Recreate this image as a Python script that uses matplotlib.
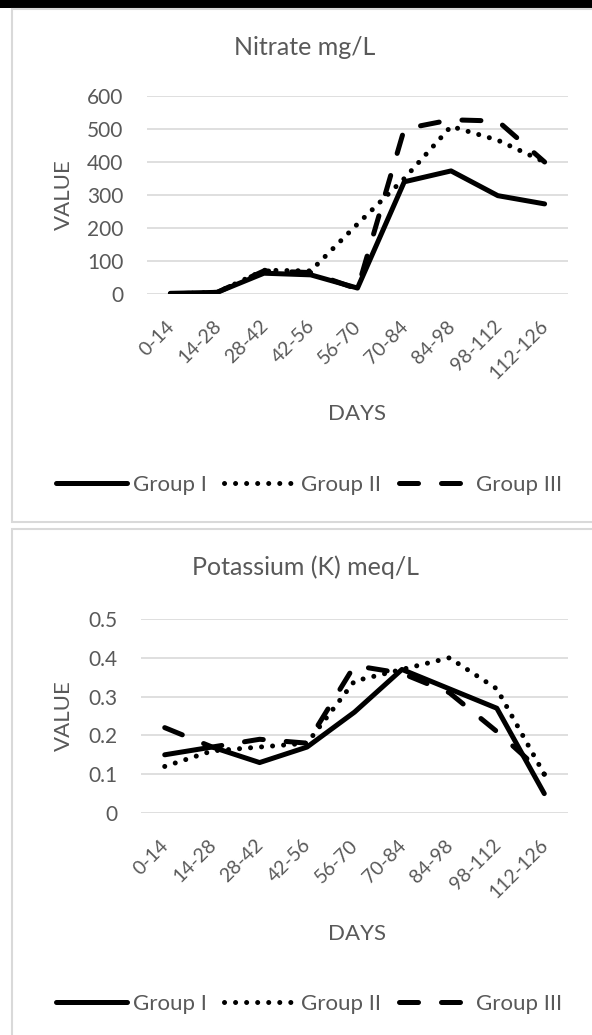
import numpy as np
import matplotlib.pyplot as plt
from matplotlib.patches import Rectangle
from matplotlib.transforms import ScaledTranslation

plt.rcParams['font.family'] = ['Lato', 'DejaVu Sans']

days = ['0-14', '14-28', '28-42', '42-56', '56-70', '70-84', '84-98', '98-112', '112-126']

# Nitrate mg/L
nitrate_g1 = [2, 5, 63, 58, 18, 340, 373, 298, 273]
nitrate_g2 = [0, 5, 72, 70, 212, 350, 508, 466, 400]
nitrate_g3 = [0, 5, 70, 65, 15, 500, 528, 524, 400]

# Potassium (K) meq/L
potassium_g1 = [0.15, 0.17, 0.13, 0.17, 0.26, 0.37, 0.32, 0.27, 0.05]
potassium_g2 = [0.12, 0.16, 0.17, 0.18, 0.34, 0.37, 0.40, 0.32, 0.10]
potassium_g3 = [0.22, 0.17, 0.19, 0.18, 0.38, 0.36, 0.31, 0.21, 0.10]

grey = '#595959'
W, H = 592, 1035
fig = plt.figure(figsize=(W / 100, H / 100), dpi=100)

# panel frames and the black strip on top
fig.patches.append(Rectangle((0, 1 - 8 / H), 1, 8 / H, transform=fig.transFigure,
                             facecolor='black', edgecolor='none', zorder=-5))
for top, bot in [(9, 522), (529, 1040)]:
    fig.patches.append(Rectangle((12 / W, 1 - bot / H), 1, (bot - top) / H,
                                 transform=fig.transFigure, facecolor='white',
                                 edgecolor='#d9d9d9', linewidth=1.5, zorder=-5))

styles = [dict(linestyle='-', solid_capstyle='round'),
          dict(linestyle=(0, (0.01, 2.2)), dash_capstyle='round'),
          dict(linestyle=(0, (3.8, 4.6)), dash_capstyle='round')]
labels = ['Group I', 'Group II', 'Group III']


def panel(left, ax_top, ax_bot, series, title, ylim, yticks, yticklabels,
          title_y, days_y, leg_y):
    ax = fig.add_axes([left / W, 1 - ax_bot / H, (568 - left) / W, (ax_bot - ax_top) / H])
    ax.patch.set_alpha(0)
    x = np.arange(len(days))
    for vals, st, lab in zip(series, styles, labels):
        ax.plot(x, vals, color='black', linewidth=3.6, label=lab, **st)
    ax.set_xlim(-0.5, len(days) - 0.5)
    ax.set_ylim(*ylim)
    ax.set_yticks(yticks)
    ax.set_yticklabels(yticklabels)
    ax.set_xticks(x)
    ax.grid(axis='y', color='#d9d9d9', linewidth=1.2)
    ax.set_axisbelow(True)
    for s in ax.spines.values():
        s.set_visible(False)
    ax.tick_params(length=0, colors=grey)
    ax.tick_params(axis='y', labelsize=15, pad=17)
    ax.tick_params(axis='x', labelsize=14, pad=24)
    ax.set_xticklabels(days, rotation=45, ha='right', va='baseline', rotation_mode='anchor')
    off = ScaledTranslation(0.05, 0, fig.dpi_scale_trans)
    for lab in ax.get_xticklabels():
        lab.set_transform(lab.get_transform() + off)
    fig.text(305 / W, 1 - title_y / H, title, ha='center', va='baseline', fontsize=18, color=grey)
    fig.text(357 / W, 1 - days_y / H, 'DAYS', ha='center', va='baseline', fontsize=16, color=grey)
    fig.text(64 / W, 1 - (ax_top + ax_bot) / 2 / H, 'VALUE', ha='center', va='center',
             rotation=90, fontsize=16, color=grey)
    fig.legend(*ax.get_legend_handles_labels(), loc='center', ncol=3, frameon=False,
               bbox_to_anchor=(309 / W, 1 - leg_y / H), fontsize=16, labelcolor=grey,
               handlelength=3.2, handletextpad=0.27, columnspacing=0.77)
    return ax


panel(147, 96, 294, [nitrate_g1, nitrate_g2, nitrate_g3], 'Nitrate mg/L',
      (0, 600), [0, 100, 200, 300, 400, 500, 600],
      ['0', '100', '200', '300', '400', '500', '600'], 55, 420, 485)

panel(141, 619, 813, [potassium_g1, potassium_g2, potassium_g3], 'Potassium (K) meq/L',
      (0, 0.5), [0, 0.1, 0.2, 0.3, 0.4, 0.5],
      ['0', '0.1', '0.2', '0.3', '0.4', '0.5'], 575, 940, 1004)

fig.savefig('out.png', dpi=100)
